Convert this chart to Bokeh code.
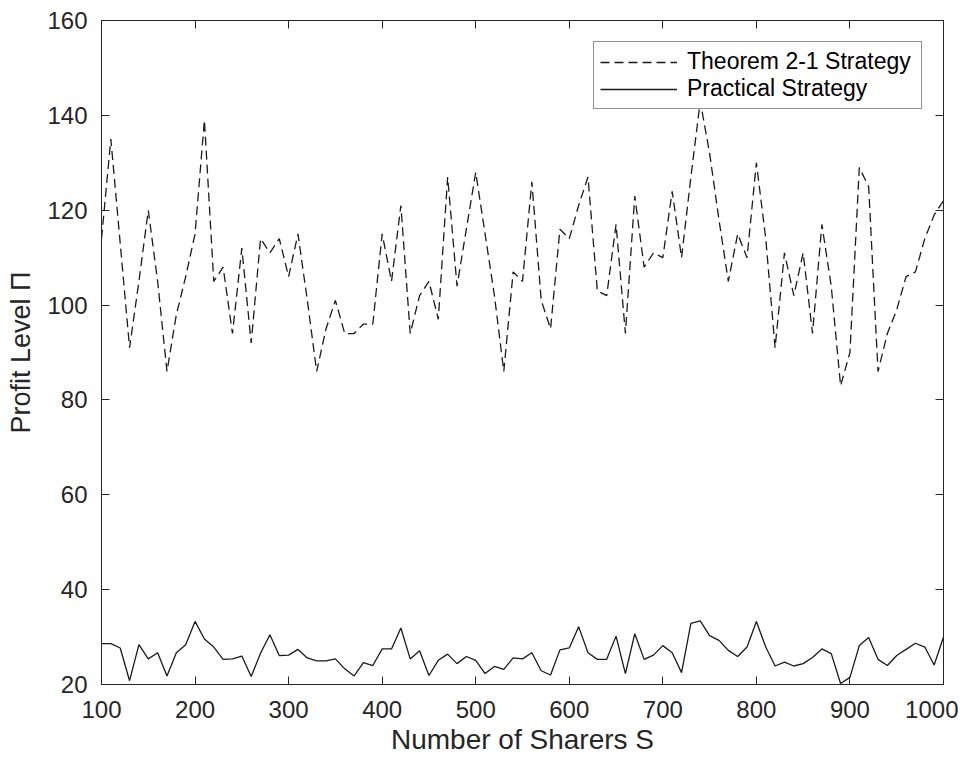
from bokeh.plotting import figure
from bokeh.models import LinearAxis, Range1d, FixedTicker, Legend, LegendItem
from bokeh.embed import file_html
from bokeh.resources import INLINE

# ---- data ----
sharers = list(range(100, 1001, 10))

theorem = [114, 135, 113, 91, 105, 120, 105, 86, 98, 106,
           115, 139, 105, 108, 94, 112, 92, 114, 111, 114,
           106, 115, 101, 86, 95, 101, 94, 94, 96, 96,
           115, 105, 121, 94, 102, 105, 97, 127, 104, 116,
           128, 115, 102, 86, 107, 105, 126, 101, 95, 116,
           114, 121, 127, 103, 102, 117, 94, 123, 108, 111,
           110, 124, 110, 127, 143, 132, 118, 105, 115, 110,
           130, 114, 91, 111, 102, 111, 94, 117, 104, 83,
           90, 129, 125, 86, 94, 99, 106, 107, 114, 119,
           122]

practical = [28.6, 28.6, 27.7, 20.8, 28.4, 25.4, 26.7, 21.8, 26.7, 28.4,
             33.3, 29.6, 27.9, 25.3, 25.4, 26.0, 21.7, 26.6, 30.5, 26.1,
             26.2, 27.4, 25.6, 25.0, 25.0, 25.4, 23.3, 21.8, 24.6, 24.0,
             27.5, 27.5, 31.9, 25.4, 27.1, 21.9, 25.1, 26.4, 24.4, 25.9,
             25.1, 22.3, 23.8, 23.2, 25.6, 25.4, 26.7, 22.9, 22.0, 27.3,
             27.7, 32.2, 26.7, 25.3, 25.3, 30.2, 22.3, 30.7, 25.3, 26.2,
             28.2, 26.7, 22.5, 32.9, 33.4, 30.3, 29.3, 27.2, 25.9, 27.9,
             33.3, 27.9, 23.9, 24.7, 23.9, 24.4, 25.7, 27.5, 26.5, 20.2,
             21.5, 28.2, 29.9, 25.3, 24.0, 26.1, 27.4, 28.7, 27.9, 24.1,
             30.0]

x_ticks = [100, 200, 300, 400, 500, 600, 700, 800, 900, 1000]
y_ticks = [20, 40, 60, 80, 100, 120, 140, 160]

series_names = ["Theorem 2-1 Strategy", "Practical Strategy"]
x_label = "Number of Sharers S"
y_label = "Profit Level \u03a0"

FONT = "Liberation Sans"
AX = "#262626"

p = figure(width=958, height=758, output_backend="svg", toolbar_location=None,
           x_range=Range1d(100, 1000), y_range=Range1d(20, 160),
           min_border_left=101, min_border_right=15, min_border_top=20,
           min_border_bottom=74, background_fill_color="white",
           border_fill_color="white")

p.xgrid.grid_line_color = None
p.ygrid.grid_line_color = None
p.outline_line_color = AX
p.outline_line_width = 1

r1 = p.line(sharers, theorem, line_color="#1a1a1a", line_width=1.3, line_dash="9 5")
r2 = p.line(sharers, practical, line_color="#1a1a1a", line_width=1.3)

def style_axis(ax, ticks, show_labels=True):
    ax.ticker = FixedTicker(ticks=ticks)
    ax.axis_line_color = AX
    ax.major_tick_line_color = AX
    ax.major_tick_in = 8
    ax.major_tick_out = 0
    ax.minor_tick_line_color = None
    ax.major_label_text_font = FONT
    ax.major_label_text_color = AX
    if show_labels:
        ax.major_label_text_font_size = "24px"
    else:
        ax.major_label_text_font_size = "0px"
        ax.major_label_text_color = None

xa = p.xaxis[0]
ya = p.yaxis[0]
style_axis(xa, x_ticks)
style_axis(ya, y_ticks)
xa.major_label_standoff = 16
ya.major_label_standoff = 14
xa.axis_label = x_label
ya.axis_label = y_label
for ax in (xa, ya):
    ax.axis_label_text_font = FONT
    ax.axis_label_text_font_style = "normal"
    ax.axis_label_text_color = AX
xa.axis_label_text_font_size = "28px"
ya.axis_label_text_font_size = "27px"
xa.axis_label_standoff = 3
ya.axis_label_standoff = 8

top = LinearAxis()
style_axis(top, x_ticks, show_labels=False)
p.add_layout(top, "above")
right = LinearAxis()
style_axis(right, y_ticks, show_labels=False)
p.add_layout(right, "right")

legend = Legend(items=[LegendItem(label=series_names[0], renderers=[r1]),
                       LegendItem(label=series_names[1], renderers=[r2])],
                location="top_right")
legend.margin = 21
legend.padding = 6
legend.spacing = 0
legend.glyph_width = 77
legend.glyph_height = 22
legend.label_height = 22
legend.label_width = 228
legend.label_standoff = 10
legend.label_text_font = FONT
legend.label_text_font_size = "23px"
legend.label_text_color = "#000000"
legend.border_line_color = AX
legend.border_line_width = 1
legend.background_fill_color = "white"
legend.background_fill_alpha = 1.0
p.add_layout(legend)

open("out.html", "w").write(file_html(p, INLINE))
